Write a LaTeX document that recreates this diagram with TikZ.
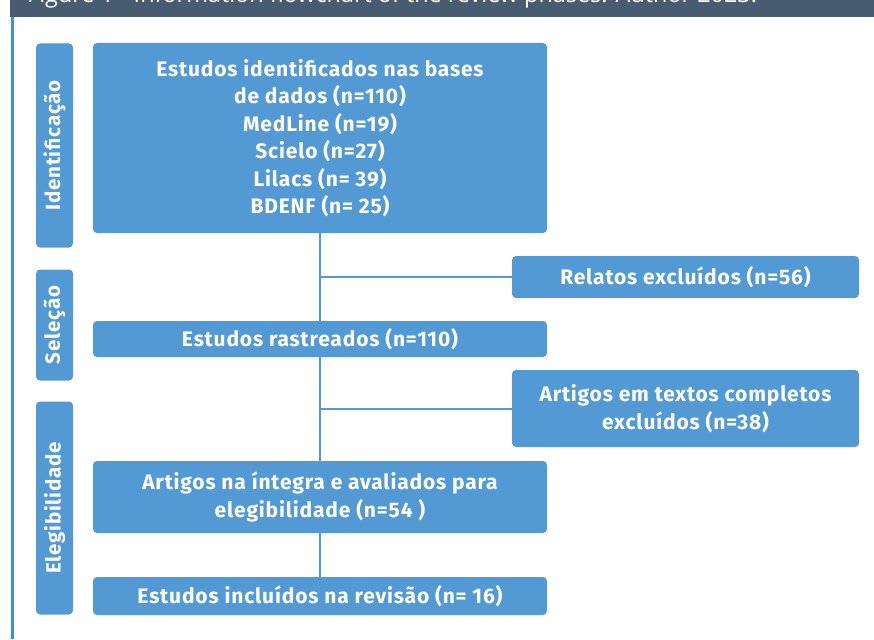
\documentclass[tikz,border=0pt]{standalone}
\usepackage{fontspec}
\setmainfont{Fira Sans}[LetterSpace=4]
\newfontfamily\headfont{Open Sans}
\definecolor{boxblue}{HTML}{5399D4}
\definecolor{headbar}{HTML}{475C70}
\definecolor{sideline}{HTML}{3A91D3}
\begin{document}
\begin{tikzpicture}[x=1pt,y=-1pt,
  flowbox/.style={draw=none, fill=boxblue, rounded corners=4pt, text=white,
    font=\bfseries\fontsize{21}{27.5}\selectfont, align=center, inner sep=0pt},
  phasebox/.style={draw=none, fill=boxblue, rounded corners=4pt, text=white,
    font=\bfseries\fontsize{20.5}{22}\selectfont, rotate=90, inner sep=0pt},
  link/.style={draw=boxblue, line width=2pt}]
\useasboundingbox (0,0) rectangle (874,639);
\begin{scope}
\clip (0,0) rectangle (874,639);
\fill[headbar] (10,0) rectangle (874,16.7);
\node[anchor=base west, text=white, inner sep=0pt, font=\headfont\fontsize{23.4}{26}\selectfont] (title) at (27,3) {Figure 1 - Information flowchart of the review phases. Author 2023.};
\end{scope}
\draw[sideline, line width=3pt] (12,17) -- (12,639);

% phase labels
\node[phasebox, minimum width=204, minimum height=37] (lid) at (54.5,145.5) {Identificação};
\node[phasebox, minimum width=111, minimum height=37] (lsel) at (54.5,325) {Seleção};
\node[phasebox, minimum width=213, minimum height=37] (lele) at (54.5,508) {Elegibilidade};

% flow boxes
\node[flowbox, minimum width=454, minimum height=190] (id) at (320,138)
  {Estudos identificados nas bases\\de dados (n=110)\\MedLine (n=19)\\Scielo (n=27)\\Lilacs (n= 39)\\BDENF (n= 25)};
\node[flowbox, minimum width=347, minimum height=42] (rel) at (685.5,277) {Relatos excluídos (n=56)};
\node[flowbox, minimum width=454, minimum height=36] (ras) at (320,339) {Estudos rastreados (n=110)};
\node[flowbox, minimum width=347, minimum height=77] (art) at (685.5,408.5) {Artigos em textos completos\\excluídos (n=38)};
\node[flowbox, minimum width=454, minimum height=72] (ele) at (320,497) {Artigos na íntegra e avaliados para\\elegibilidade (n=54 )};
\node[flowbox, minimum width=454, minimum height=38] (inc) at (320,596) {Estudos incluídos na revisão (n= 16)};

% connectors
\draw[link] (id.south) -- (ras.north);
\draw[link] (id.south |- rel.west) -- (rel.west);
\draw[link] (ras.south) -- (ele.north);
\draw[link] (ras.south |- art.west) -- (art.west);
\draw[link] (ele.south) -- (inc.north);
\end{tikzpicture}
\end{document}
